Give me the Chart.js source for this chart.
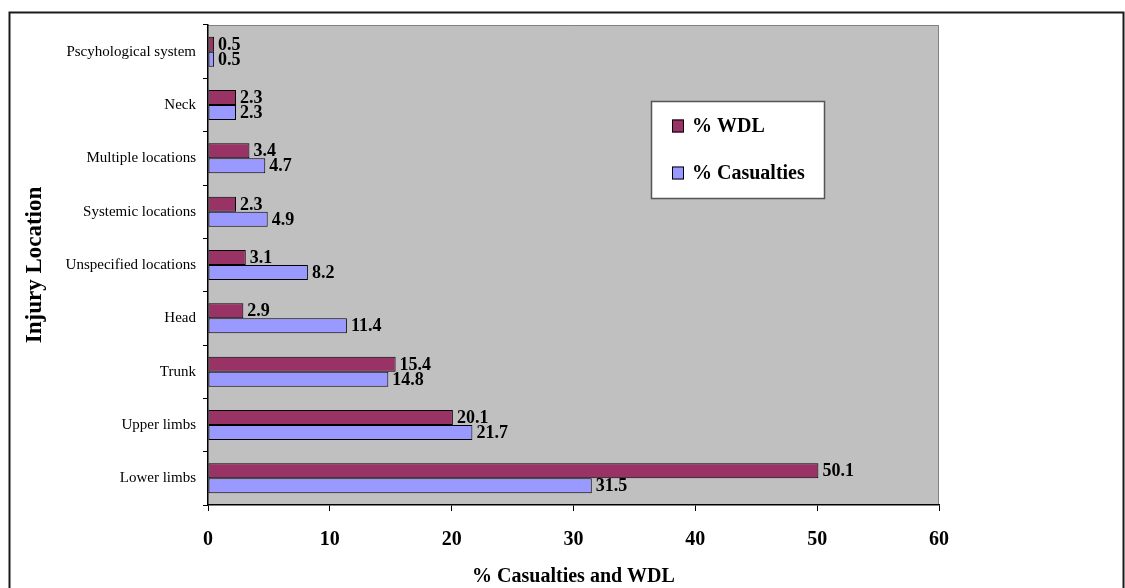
<!DOCTYPE html>
<html>
<head>
<meta charset="utf-8">
<script src="https://cdn.jsdelivr.net/npm/chart.js@4"></script>
<style>
  html, body { margin: 0; padding: 0; background: #fff; }
  canvas { display: block; }
</style>
</head>
<body>
<canvas id="c" width="1125" height="588"></canvas>
<script>
// Injury locations, listed top to bottom
const locations = [
  'Pscyhological system', 'Neck', 'Multiple locations', 'Systemic locations',
  'Unspecified locations', 'Head', 'Trunk', 'Upper limbs', 'Lower limbs'
];
const wdlPct        = [0.5, 2.3, 3.4, 2.3, 3.1, 2.9, 15.4, 20.1, 50.1];
const casualtiesPct = [0.5, 2.3, 4.7, 4.9, 8.2, 11.4, 14.8, 21.7, 31.5];
const xTickStep = 10;
const xMax = 60;

const SERIF = "'Liberation Serif', 'Times New Roman', serif";

// gray plot background, frame and outer border
const framePlugin = {
  id: 'frame',
  beforeDraw(chart) {
    const { ctx, chartArea: a } = chart;
    ctx.save();
    ctx.fillStyle = '#c0c0c0';
    ctx.fillRect(a.left, a.top, a.right - a.left, a.bottom - a.top);
    ctx.strokeStyle = '#808080';
    ctx.lineWidth = 1;
    ctx.beginPath();
    ctx.moveTo(a.left, a.top + 0.5);
    ctx.lineTo(a.right - 0.5, a.top + 0.5);
    ctx.lineTo(a.right - 0.5, a.bottom);
    ctx.stroke();
    ctx.restore();
  },
  afterDraw(chart) {
    const { ctx } = chart;
    ctx.save();
    ctx.strokeStyle = '#1a1a1a';
    ctx.lineWidth = 2;
    ctx.strokeRect(9.5, 12.5, 1114, 620);
    ctx.restore();
  }
};

// value labels at the end of each bar
const valueLabels = {
  id: 'valueLabels',
  afterDatasetsDraw(chart) {
    const { ctx } = chart;
    ctx.save();
    ctx.font = 'bold 18px ' + SERIF;
    ctx.fillStyle = '#000';
    ctx.textAlign = 'left';
    ctx.textBaseline = 'middle';
    chart.data.datasets.forEach((ds, di) => {
      chart.getDatasetMeta(di).data.forEach((bar, i) => {
        ctx.fillText(ds.data[i].toFixed(1), bar.x + 4, bar.y + 1);
      });
    });
    ctx.restore();
  }
};

// boxed legend inside the plot area
const boxLegend = {
  id: 'boxLegend',
  afterDraw(chart) {
    const { ctx } = chart;
    const x = 651, y = 101, w = 173, h = 97;
    ctx.save();
    ctx.fillStyle = '#fff';
    ctx.fillRect(x, y, w, h);
    ctx.strokeStyle = '#555';
    ctx.lineWidth = 1.5;
    ctx.strokeRect(x + 0.5, y + 0.5, w, h);
    ctx.font = 'bold 20px ' + SERIF;
    ctx.textBaseline = 'middle';
    ctx.textAlign = 'left';
    const rows = [126, 173];
    chart.data.datasets.forEach((ds, i) => {
      const cy = rows[i];
      ctx.fillStyle = ds.backgroundColor;
      ctx.fillRect(672, cy - 6.5, 12, 13);
      ctx.strokeStyle = '#000';
      ctx.lineWidth = 1;
      ctx.strokeRect(672.5, cy - 6, 11, 12);
      ctx.fillStyle = '#000';
      ctx.fillText(ds.label, 692, cy + 1);
    });
    ctx.restore();
  }
};

new Chart(document.getElementById('c'), {
  type: 'bar',
  data: {
    labels: locations,
    datasets: [
      {
        label: '% WDL',
        data: wdlPct,
        backgroundColor: '#993366',
        borderColor: '#000',
        borderWidth: 1,
        borderSkipped: false
      },
      {
        label: '% Casualties',
        data: casualtiesPct,
        backgroundColor: '#9999ff',
        borderColor: '#000',
        borderWidth: 1,
        borderSkipped: false
      }
    ]
  },
  options: {
    indexAxis: 'y',
    responsive: false,
    animation: false,
    devicePixelRatio: 1,
    categoryPercentage: 0.5625,
    barPercentage: 1.0,
    layout: { padding: { top: 25, right: 186, left: 0, bottom: 0 } },
    plugins: {
      legend: { display: false },
      tooltip: { enabled: false }
    },
    scales: {
      x: {
        min: 0,
        max: xMax,
        ticks: {
          stepSize: xTickStep,
          color: '#000',
          padding: 17,
          font: { family: SERIF, size: 20, weight: 'bold' }
        },
        grid: { drawOnChartArea: false, tickLength: 6, color: '#000' },
        border: { color: '#000', width: 1.5 },
        title: {
          display: true,
          text: '% Casualties and WDL',
          color: '#000',
          font: { family: SERIF, size: 20, weight: 'bold' },
          padding: { top: 0, bottom: -1 }
        },
        afterFit(scale) { scale.height = 83; }
      },
      y: {
        ticks: {
          color: '#000',
          padding: 7,
          font: { family: SERIF, size: 15 }
        },
        grid: { drawOnChartArea: false, tickLength: 5, color: '#000', offset: true },
        border: { color: '#000', width: 1.5 },
        title: {
          display: true,
          text: 'Injury Location',
          color: '#000',
          font: { family: SERIF, size: 23, weight: 'bold' },
          padding: { top: 21, bottom: 0 }
        },
        afterFit(scale) { scale.width = 208; }
      }
    }
  },
  plugins: [framePlugin, valueLabels, boxLegend]
});
</script>
</body>
</html>
